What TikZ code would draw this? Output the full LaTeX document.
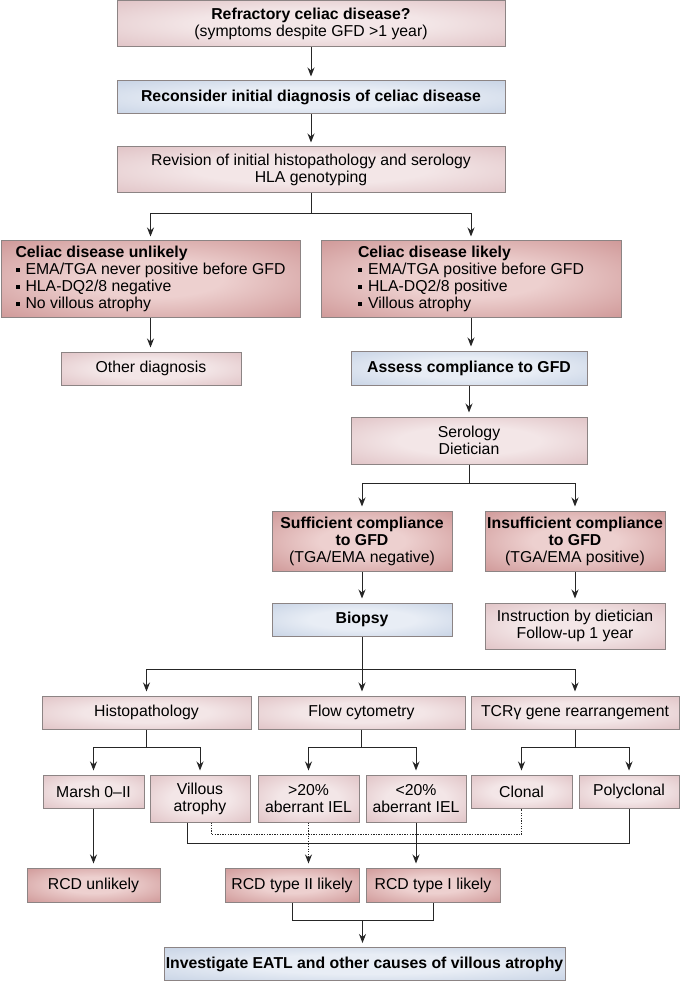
\documentclass[tikz,border=0pt]{standalone}
\usepackage{fontspec}
\setmainfont{Liberation Sans}
\usetikzlibrary{arrows.meta,calc,positioning}

\definecolor{pinkedge}{HTML}{D4ACB0}
\definecolor{pinkmid}{HTML}{F3E6E7}
\definecolor{rededge}{HTML}{BE7878}
\definecolor{redmid}{HTML}{EDD0CF}
\definecolor{blueedge}{HTML}{B3C3DB}
\definecolor{bluemid}{HTML}{E8EDF5}
\definecolor{frame}{HTML}{8C8484}
\definecolor{wire}{HTML}{262626}

\pgfdeclareradialshading{pinkglow}{\pgfpoint{0bp}{0bp}}{color(0bp)=(pinkmid); color(15bp)=(pinkmid); color(50bp)=(pinkedge); color(72bp)=(pinkedge)}
\pgfdeclareradialshading{redglow}{\pgfpoint{0bp}{0bp}}{color(0bp)=(redmid); color(12bp)=(redmid); color(50bp)=(rededge); color(72bp)=(rededge)}
\pgfdeclareradialshading{blueglow}{\pgfpoint{0bp}{0bp}}{color(0bp)=(bluemid); color(15bp)=(bluemid); color(50bp)=(blueedge); color(72bp)=(blueedge)}

\newcommand{\sqbul}{\rule[3pt]{4pt}{4pt}\hspace{6pt}}

\tikzset{
  box/.style={draw=frame, line width=1pt, rectangle, inner sep=0pt, align=center},
  pinkbox/.style={box, shading=pinkglow},
  redbox/.style={box, shading=redglow},
  bluebox/.style={box, shading=blueglow},
  link/.style={draw=wire, line width=1pt},
  tip/.style={-{Stealth[length=9pt,width=7pt]}, shorten >=4pt},
  arr/.style={link, tip},
  dotlink/.style={link, dash pattern=on 1.3pt off 1.3pt},
}

\begin{document}
\begin{tikzpicture}[x=1pt, y=-1pt, font=\fontsize{15.8}{17}\selectfont]

\path[fill=white] (0,0) rectangle (680,981);

% ---- Top chain ----
\node[pinkbox, minimum width=388, minimum height=46] (refr) at (311,23.5)
  {\textbf{Refractory celiac disease?}\\(symptoms despite GFD >1 year)};
\node[bluebox, minimum width=388, minimum height=33] (recon) at (311,97.5)
  {\textbf{Reconsider initial diagnosis of celiac disease}};
\node[pinkbox, minimum width=388, minimum height=46] (revis) at (311,170)
  {Revision of initial histopathology and serology\\HLA genotyping};

% ---- Likely / unlikely ----
\node[redbox, minimum width=299, minimum height=76, align=left] (unlik) at (150.5,279)
  {\textbf{Celiac disease unlikely}\\\sqbul EMA/TGA never positive before GFD\\\sqbul HLA-DQ2/8 negative\\\sqbul No villous atrophy};
\node[redbox, minimum width=300, minimum height=76, align=left] (likely) at (471,279)
  {\textbf{Celiac disease likely}\\\sqbul EMA/TGA positive before GFD\\\sqbul HLA-DQ2/8 positive\\\sqbul Villous atrophy};
\node[pinkbox, minimum width=180, minimum height=33] (other) at (151,368.5) {Other diagnosis};
\node[bluebox, minimum width=236, minimum height=34] (assess) at (469,368)
  {\textbf{Assess compliance to GFD}};
\node[pinkbox, minimum width=236, minimum height=47] (serol) at (469,440.5) {Serology\\Dietician};

% ---- Compliance ----
\node[redbox, minimum width=180, minimum height=60] (suff) at (362,541)
  {\textbf{Sufficient compliance}\\\textbf{to GFD}\\(TGA/EMA negative)};
\node[redbox, minimum width=180, minimum height=60] (insuf) at (575,541)
  {\textbf{Insufficient compliance}\\\textbf{to GFD}\\(TGA/EMA positive)};
\node[bluebox, minimum width=180, minimum height=33] (biopsy) at (362,619.5) {\textbf{Biopsy}};
\node[pinkbox, minimum width=180, minimum height=46] (instr) at (575,626)
  {Instruction by dietician\\Follow-up 1 year};

% ---- Tests ----
\node[pinkbox, minimum width=209, minimum height=33] (histo) at (146.5,712.5) {Histopathology};
\node[pinkbox, minimum width=207, minimum height=33] (flow) at (361.5,712.5) {Flow cytometry};
\node[pinkbox, minimum width=208, minimum height=33] (tcr) at (575,712.5) {TCRγ gene rearrangement};

\node[pinkbox, minimum width=101, minimum height=33] (marsh) at (93.5,791.5) {Marsh 0--II};
\node[pinkbox, minimum width=100, minimum height=47] (villi) at (200,798.5) {Villous\\atrophy};
\node[pinkbox, minimum width=101, minimum height=47] (gt20) at (308.5,798.5) {>20\%\\aberrant IEL};
\node[pinkbox, minimum width=100, minimum height=47] (lt20) at (416,798.5) {<20\%\\aberrant IEL};
\node[pinkbox, minimum width=101, minimum height=33] (clonal) at (521.5,791.5) {Clonal};
\node[pinkbox, minimum width=100, minimum height=33] (poly) at (629,791.5) {Polyclonal};

% ---- Outcome ----
\node[redbox, minimum width=133, minimum height=34] (rcdno) at (93.5,885) {RCD unlikely};
\node[redbox, minimum width=134, minimum height=34] (rcd2) at (292,885) {RCD type II likely};
\node[redbox, minimum width=134, minimum height=34] (rcd1) at (433,885) {RCD type I likely};
\node[bluebox, minimum width=401, minimum height=33] (eatl) at (364.5,964)
  {\textbf{Investigate EATL and other causes of villous atrophy}};

% ---- Connectors ----
\draw[arr] (refr.south) -- (recon.north);
\draw[arr] (recon.south) -- (revis.north);
\draw[link] (revis.south) -- ++(0,20) coordinate (fork1);
\draw[arr] (fork1) -| (unlik.north);
\draw[arr] (fork1) -| (likely.north);
\draw[arr] (unlik.south) -- (unlik.south |- other.north);
\draw[arr] (likely.south) -- (likely.south |- assess.north);
\draw[arr] (assess.south) -- (serol.north);
\draw[link] (serol.south) -- ++(0,19) coordinate (fork2);
\draw[arr] (fork2) -| (suff.north);
\draw[arr] (fork2) -| (insuf.north);
\draw[arr] (suff.south) -- (biopsy.north);
\draw[arr] (insuf.south) -- (instr.north);
\draw[link] (biopsy.south) -- ++(0,33) coordinate (fork3);
\draw[arr] (fork3) -| (histo.north);
\draw[arr] (fork3) -- (fork3 |- flow.north);
\draw[arr] (fork3) -| (tcr.north);
\draw[link] (histo.south) -- ++(0,18) coordinate (fork4);
\draw[arr] (fork4) -| (marsh.north);
\draw[arr] (fork4) -| (villi.north);
\draw[link] (flow.south) -- ++(0,18) coordinate (fork5);
\draw[arr] (fork5) -| (gt20.north);
\draw[arr] (fork5) -| (lt20.north);
\draw[link] (tcr.south) -- ++(0,18) coordinate (fork6);
\draw[arr] (fork6) -| (clonal.north);
\draw[arr] (fork6) -| (poly.north);

% dotted: type II route
\coordinate (dv) at ($(villi.south)+(11,12)$);
\draw[dotlink] ($(villi.south)+(11,0)$) -- (dv) -- (dv -| clonal.south) -- (clonal.south);
\draw[dotlink, tip] (gt20.south) -- (gt20.south |- rcd2.north);

% solid: type I route
\coordinate (sv) at ($(villi.south)+(-13,21)$);
\draw[link] ($(villi.south)+(-13,0)$) -- (sv) -- (sv -| poly.south) -- (poly.south);
\draw[arr] (lt20.south) -- (lt20.south |- rcd1.north);
\draw[arr] (marsh.south) -- (marsh.south |- rcdno.north);

% merge to EATL
\draw[link] (rcd2.south) -- ++(0,18) coordinate (m2) -- (m2 -| rcd1.south) -- (rcd1.south);
\coordinate (mm) at ($(m2)!0.5!(m2 -| rcd1.south)$);
\draw[arr] (mm) -- (mm |- eatl.north);

\useasboundingbox (0,0) rectangle (680,981);
\end{tikzpicture}
\end{document}
